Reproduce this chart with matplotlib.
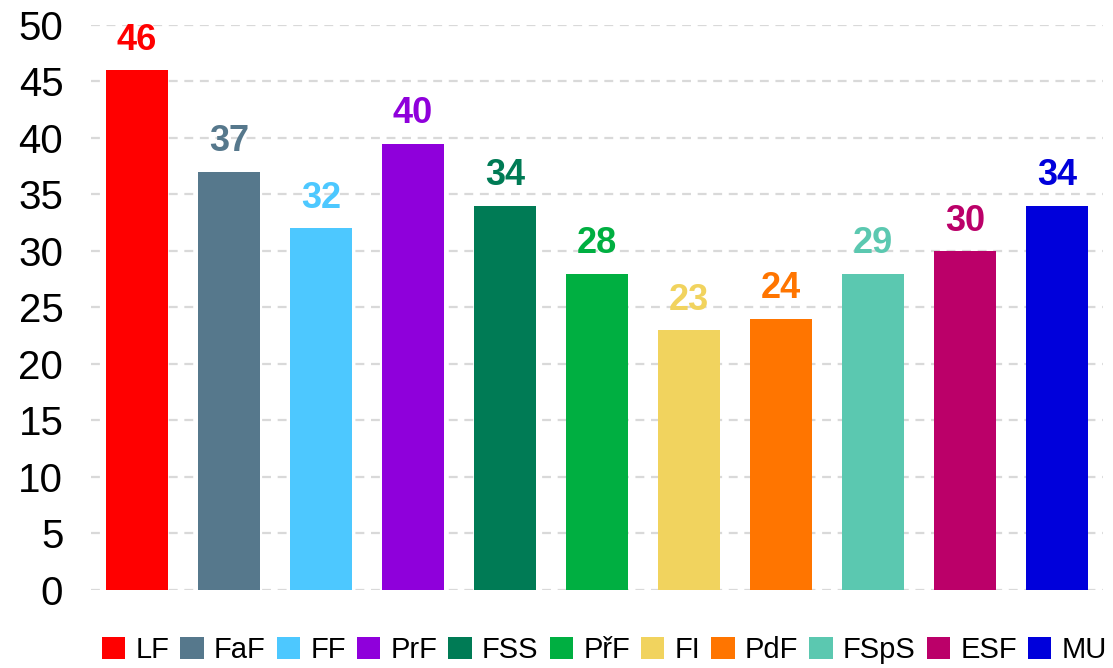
import matplotlib.pyplot as plt
from matplotlib.patches import Patch

faculties = ["LF", "FaF", "FF", "PrF", "FSS", "PřF", "FI", "PdF", "FSpS", "ESF", "MU"]
values = [46, 37, 32, 39.5, 34, 28, 23, 24, 28, 30, 34]
labels = ["46", "37", "32", "40", "34", "28", "23", "24", "29", "30", "34"]
colors = ["#FF0000", "#56788C", "#4DC8FF", "#8F00DB", "#007B55", "#00AF41",
          "#F1D35E", "#FF7500", "#5BC8B0", "#BB0069", "#0000DB"]
yticks = list(range(0, 51, 5))

plt.rcParams["font.family"] = ["Liberation Sans", "DejaVu Sans"]

fig = plt.figure(figsize=(11.13, 6.68), dpi=100)
ax = fig.add_axes([0.0818, 0.1168, 0.909, 0.8458])

x = list(range(len(faculties)))
ax.bar(x, values, width=0.675, color=colors, zorder=2)
for xi, v, lab, c in zip(x, values, labels, colors):
    ax.text(xi, v + 1.1, lab, ha="center", va="bottom", color=c,
            fontsize=26, fontweight="bold")

ax.set_xlim(-0.5, 10.5)
ax.set_ylim(0, 50)
ax.set_yticks(yticks)
ax.set_xticks([])
ax.tick_params(axis="y", length=0, labelsize=29, pad=20)
ax.grid(axis="y", color="#D9D9D9", linestyle=(0, (4, 3)), linewidth=1.6, zorder=0)
for s in ax.spines.values():
    s.set_visible(False)

handles = [Patch(facecolor=c, edgecolor="none") for c in colors]
fig.legend(handles, faculties, loc="center", bbox_to_anchor=(0.543, 18 / 668),
           ncol=len(faculties), frameon=False, fontsize=21,
           handlelength=0.8, handleheight=0.8, handletextpad=0.35,
           columnspacing=0.38, borderpad=0)

fig.savefig("out.png", dpi=100)
